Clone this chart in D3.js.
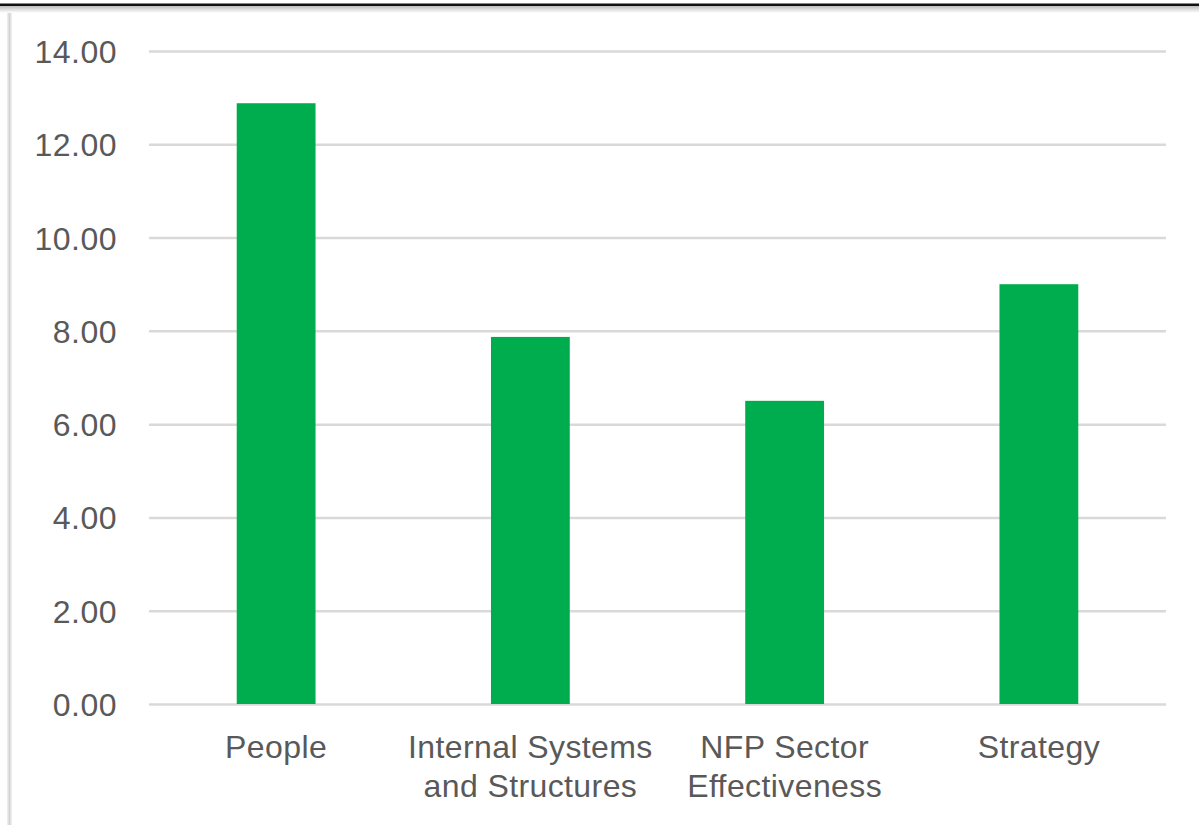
<!DOCTYPE html>
<html>
<head>
<meta charset="utf-8">
<script src="https://cdn.jsdelivr.net/npm/d3@7"></script>
<style>
    html, body { margin: 0; padding: 0; background: #fff; }
    svg { display: block; font-family: "Liberation Sans", Arial, sans-serif; }
</style>
</head>
<body>
<div id="chart"></div>
<script>
// --- Data ---
const categories = ["People", "Internal Systems and Structures", "NFP Sector Effectiveness", "Strategy"];
const categoryLines = [["People"], ["Internal Systems", "and Structures"], ["NFP Sector", "Effectiveness"], ["Strategy"]];
const values = [12.88, 7.87, 6.50, 9.00];
const yTicks = [0, 2, 4, 6, 8, 10, 12, 14];

const width = 1199;
const height = 825;
const margin = { top: 51, right: 33, bottom: 121, left: 149 };

const svg = d3.select("#chart").append("svg")
    .attr("width", width)
    .attr("height", height);

// Frame: dark top edge with soft shadow, grey left edge
const defs = svg.append("defs");
const topShade = defs.append("linearGradient")
    .attr("id", "topShade").attr("x1", 0).attr("y1", 0).attr("x2", 0).attr("y2", 1);
topShade.append("stop").attr("offset", "0%").attr("stop-color", "#bdbdbd");
topShade.append("stop").attr("offset", "100%").attr("stop-color", "#ffffff");
const leftShade = defs.append("linearGradient")
    .attr("id", "leftShade").attr("x1", 0).attr("y1", 0).attr("x2", 1).attr("y2", 0);
leftShade.append("stop").attr("offset", "0%").attr("stop-color", "#f2f2f2");
leftShade.append("stop").attr("offset", "50%").attr("stop-color", "#d4d4d4");
leftShade.append("stop").attr("offset", "100%").attr("stop-color", "#f4f4f4");

svg.append("rect").attr("x", 7).attr("y", 6).attr("width", 5).attr("height", height - 6)
    .attr("fill", "url(#leftShade)");
svg.append("rect").attr("x", 0).attr("y", 6).attr("width", width).attr("height", 7)
    .attr("fill", "url(#topShade)");
svg.append("rect").attr("x", 0).attr("y", 3.5).attr("width", width).attr("height", 2.5)
    .attr("fill", "#111");

const innerW = width - margin.left - margin.right;
const innerH = height - margin.top - margin.bottom;

const x = d3.scaleBand()
    .domain(categories)
    .range([0, innerW])
    .paddingInner(0.69)
    .paddingOuter(0.345);

const y = d3.scaleLinear()
    .domain([0, 14])
    .range([innerH, 0]);

const g = svg.append("g")
    .attr("transform", `translate(${margin.left},${margin.top})`);

// Gridlines
const yAxis = d3.axisLeft(y)
    .tickValues(yTicks)
    .tickSize(-innerW)
    .tickPadding(32)
    .tickFormat(d3.format(".2f"));

const yAxisG = g.append("g").call(yAxis);
yAxisG.select(".domain").remove();
yAxisG.selectAll(".tick line")
    .attr("stroke", "#d9d9d9")
    .attr("stroke-width", 2.5);
yAxisG.selectAll(".tick text")
    .attr("fill", "#595959")
    .attr("font-size", 32)
    .attr("letter-spacing", 0.5)
    .attr("dy", "0.36em");

// Bars
g.selectAll("rect.bar")
    .data(values)
    .join("rect")
    .attr("class", "bar")
    .attr("x", (d, i) => x(categories[i]))
    .attr("y", d => y(d))
    .attr("width", x.bandwidth())
    .attr("height", d => y(0) - y(d))
    .attr("fill", "#00ad4e");

// Category labels
const xAxis = d3.axisBottom(x).tickSize(0).tickFormat("");
const xAxisG = g.append("g")
    .attr("transform", `translate(0,${innerH})`)
    .call(xAxis);
xAxisG.select(".domain").remove();

xAxisG.selectAll(".tick")
    .append("text")
    .attr("fill", "#595959")
    .attr("font-size", 32)
    .attr("letter-spacing", 0.4)
    .attr("text-anchor", "middle")
    .selectAll("tspan")
    .data((d, i) => categoryLines[i])
    .join("tspan")
    .attr("x", 0)
    .attr("y", (d, i) => 54 + i * 39)
    .text(d => d);
</script>
</body>
</html>
